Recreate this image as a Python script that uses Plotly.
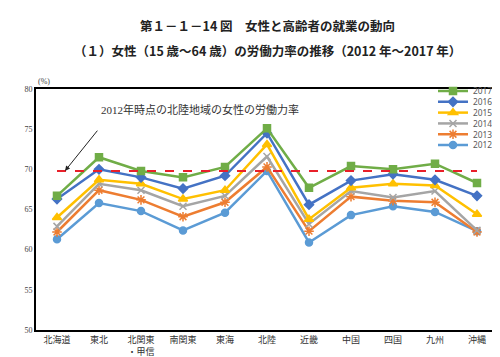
import plotly.graph_objects as go

categories = ["北海道", "東北", "北関東<br>・甲信", "南関東", "東海", "北陸",
              "近畿", "中国", "四国", "九州", "沖縄"]
years = ["2012", "2013", "2014", "2015", "2016", "2017"]
v2012 = [61.3, 65.8, 64.8, 62.4, 64.6, 69.8, 60.9, 64.3, 65.4, 64.7, 62.3]
v2013 = [62.2, 67.4, 66.2, 64.1, 65.9, 70.3, 62.3, 66.6, 66.1, 65.9, 62.2]
v2014 = [62.9, 68.2, 67.4, 65.4, 66.7, 71.6, 63.2, 67.3, 66.5, 67.3, 62.4]
v2015 = [64.0, 68.7, 68.2, 66.3, 67.4, 73.1, 63.8, 67.7, 68.2, 68.0, 64.4]
v2016 = [66.3, 70.0, 69.0, 67.6, 69.2, 74.5, 65.6, 68.6, 69.4, 68.7, 66.7]
v2017 = [66.7, 71.5, 69.8, 69.0, 70.3, 75.1, 67.7, 70.4, 70.0, 70.7, 68.3]
series = [v2012, v2013, v2014, v2015, v2016, v2017]
y_ticks = [50, 55, 60, 65, 70, 75, 80]

colors = ["#5B9BD5", "#ED7D31", "#A5A5A5", "#FFC000", "#4472C4", "#70AD47"]
symbols = ["circle", "asterisk-open", "x-thin-open", "triangle-up", "diamond", "square"]
msizes = [7, 8, 7, 8, 7, 7]

x_idx = list(range(len(categories)))
fig = go.Figure()

L, R, T, B = 28, 8, 81, 31
H = 357
plot_h = H - T - B

for i, (yr, vals) in enumerate(zip(years, series)):
    legname = "legend" if i == 5 else f"legend{6 - i}"
    fig.add_trace(go.Scatter(
        x=x_idx, y=vals, name=yr, mode="lines+markers",
        line=dict(color=colors[i], width=2.5),
        marker=dict(symbol=symbols[i], size=msizes[i], color=colors[i],
                    line=dict(color=colors[i], width=1.5)),
        legend=legname,
    ))

# dashed reference line: 2012 Hokuriku value
hok = v2012[categories.index("北陸")]
fig.add_trace(go.Scatter(
    x=x_idx, y=[hok] * len(x_idx), mode="lines", showlegend=False,
    line=dict(color="#E8202A", width=2, dash="dash"), hoverinfo="skip",
))

# legends, one per series, stacked tightly
legend_layout = {}
step = 11
for k in range(6):
    key = "legend" if k == 0 else f"legend{k + 1}"
    ypix = 83 + k * step
    legend_layout[key] = dict(
        x=1.0, xanchor="right",
        y=(H - B - ypix) / plot_h, yanchor="middle",
        bgcolor="rgba(0,0,0,0)", borderwidth=0,
        font=dict(family="Noto Sans, sans-serif", size=8.4, color="#595959"),
        itemwidth=30,
    )

serif = "Liberation Serif, Noto Sans CJK JP, serif"
annotations = [
    dict(text="<b>第１－１－14 図　女性と高齢者の就業の動向</b>",
         xref="paper", yref="paper", x=0.5, y=(H - B - 16) / plot_h,
         xanchor="center", yanchor="middle", showarrow=False,
         font=dict(family="Noto Sans CJK JP", size=12.5, color="#222")),
    dict(text="<b>（１）女性（15 歳～64 歳）の労働力率の推移（2012 年～2017 年）</b>",
         xref="paper", yref="paper", x=0.5, y=(H - B - 42) / plot_h,
         xanchor="center", yanchor="middle", showarrow=False,
         font=dict(family="Noto Sans CJK JP", size=12.5, color="#222")),
    dict(text="(%)", xref="paper", yref="paper",
         x=(36 - L) / (500 - L - R), y=(H - B - 73) / plot_h,
         xanchor="center", yanchor="middle", showarrow=False,
         font=dict(family=serif, size=8, color="#444")),
    dict(text="2012年時点の北陸地域の女性の労働力率", xref="x", yref="y",
         x=1.0, y=77.4, xanchor="left", yanchor="middle", showarrow=False,
         font=dict(family=serif, size=11, color="#333")),
    dict(text="", xref="x", yref="y", x=0.19, y=hok,
         axref="x", ayref="y", ax=0.99, ay=75.0,
         showarrow=True, arrowhead=2, arrowsize=1, arrowwidth=1,
         arrowcolor="#222"),
]

fig.update_layout(
    width=500, height=357,
    margin=dict(l=L, r=R, t=T, b=B, pad=0),
    paper_bgcolor="white", plot_bgcolor="white",
    showlegend=True,
    annotations=annotations,
    **legend_layout,
)
fig.update_xaxes(
    range=[-0.5, len(categories) - 0.5], tickmode="array",
    tickvals=x_idx, ticktext=categories,
    showgrid=False, zeroline=False, showline=True, linecolor="black",
    linewidth=2, mirror=True, ticks="",
    tickfont=dict(family=serif, size=9, color="#333"),
)
fig.update_yaxes(
    range=[50, 80], tickvals=y_ticks, showgrid=False, zeroline=False,
    showline=True, linecolor="black", linewidth=2, mirror=True, ticks="",
    tickfont=dict(family=serif, size=8, color="#444"),
)

fig.write_html("out.html")
